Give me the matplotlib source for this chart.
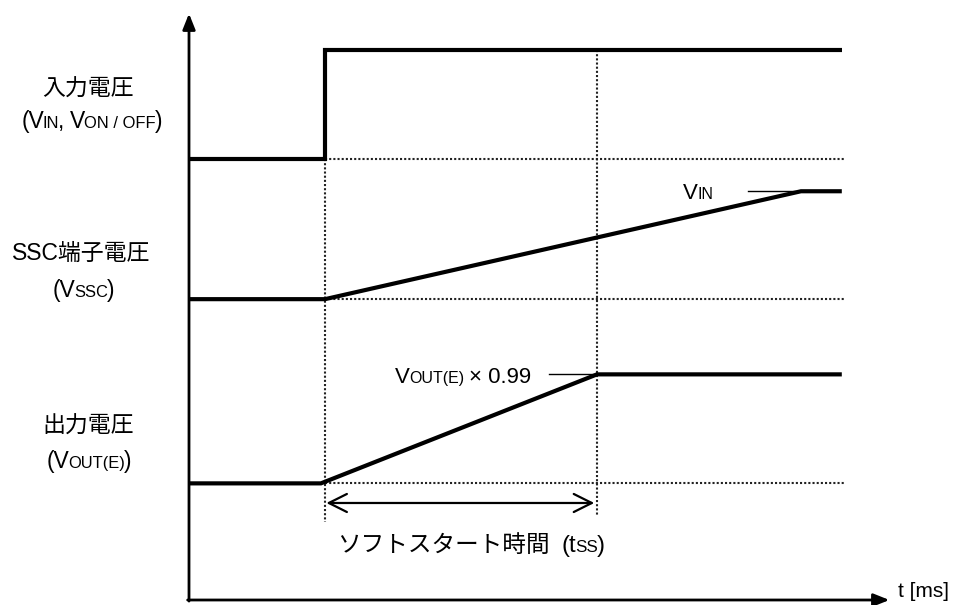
import numpy as np
import matplotlib
matplotlib.use('Agg')
import matplotlib.pyplot as plt

FAM = ['Liberation Sans', 'Noto Sans CJK JP']
plt.rcParams['font.family'] = FAM

# time in ms (arbitrary scale), voltage levels in arbitrary units
t_on = 10.0          # VIN / VON/OFF step
t_ss = 30.0          # end of soft start (VOUT reaches 99%)
t_ssc = 45.0         # SSC pin reaches VIN
t_end = 48.0
t_axis = 51.5

vin_t = [0, t_on, t_on, t_end]
vin_v = [40.46, 40.46, 50.46, 50.46]

ssc_t = [0, t_on, t_ssc, t_end]
ssc_v = [27.6, 27.6, 37.5, 37.5]

out_t = [0, t_on - 0.3, t_ss, t_end]
out_v = [10.7, 10.7, 20.7, 20.7]

labels = ['入力電圧', 'SSC端子電圧', '出力電圧']
sym_parts = [
    [('(V', 0), ('IN', 1), (',', 0), (None, 6), ('V', 0), ('ON / OFF', 1), (')', 0)],
    [('(V', 0), ('SSC', 1), (')', 0)],
    [('(V', 0), ('OUT(E)', 1), (')', 0)],
]

fig = plt.figure(figsize=(9.6, 6.05), dpi=100)
ax = fig.add_axes([0, 0, 1, 1])
ax.set_xlim(-189 / 13.6, (960 - 189) / 13.6)
ax.set_ylim(-5 / 10.9, 600 / 10.9)
ax.axis('off')
renderer = fig.canvas.get_renderer()


def rich(x, y, parts, size, ha='center'):
    # small pieces sit on the same baseline, like the original small caps subscripts
    texts, widths = [], []
    for s, small in parts:
        if s is None:
            texts.append(None)
            widths.append(small)
            continue
        t = ax.text(0, 0, s, fontsize=size * 0.72 if small else size,
                    va='baseline', ha='left')
        texts.append(t)
        widths.append(t.get_window_extent(renderer).width - 1.0)
    total = sum(widths)
    x0, y0 = ax.transData.transform((x, y))
    if ha == 'center':
        x0 -= total / 2
    elif ha == 'right':
        x0 -= total
    inv = ax.transData.inverted()
    for t, w in zip(texts, widths):
        if t is not None:
            t.set_position(inv.transform((x0, y0)))
        x0 += w


# axes with arrows
ax.annotate('', xy=(0, 53.8), xytext=(0, -0.1),
            arrowprops=dict(arrowstyle='-|>,head_length=0.95,head_width=0.38',
                            lw=2, color='black', mutation_scale=10,
                            shrinkA=0, shrinkB=0))
ax.annotate('', xy=(t_axis, 0), xytext=(-0.1, 0),
            arrowprops=dict(arrowstyle='-|>,head_length=0.95,head_width=0.38',
                            lw=2, color='black', mutation_scale=10,
                            shrinkA=0, shrinkB=0))
ax.text(t_axis + 0.6, 0.8, 't [ms]', fontsize=15, va='center', ha='left')

# dotted guides
dot = dict(color='#222222', lw=1.5, linestyle=(0, (1, 1)))
for lv in [vin_v[0], ssc_v[0], out_v[0]]:
    ax.plot([t_on, t_end + 0.25], [lv, lv], **dot)
ax.plot([t_on, t_on], [vin_v[0], 7.2], **dot)
ax.plot([t_ss, t_ss], [vin_v[-1], 7.7], **dot)

# waveforms
for tt, vv in [(vin_t, vin_v), (ssc_t, ssc_v), (out_t, out_v)]:
    ax.plot(tt, vv, color='black', lw=3, solid_capstyle='butt',
            solid_joinstyle='miter')

# leader lines
ax.plot([41.1, t_ssc], [ssc_v[-1], ssc_v[-1]], color='black', lw=1)
ax.plot([26.5, t_ss], [out_v[-1], out_v[-1]], color='black', lw=1)
rich(37.4, 36.8, [('V', 0), ('IN', 1)], 16)
rich(25.1, 19.9, [('V', 0), ('OUT(E)', 1), (None, 6), ('× 0.99', 0)], 16, ha='right')

# soft start time arrow
ax.annotate('', xy=(t_ss - 0.2, 8.9), xytext=(t_on + 0.1, 8.9),
            arrowprops=dict(arrowstyle='<->,head_length=1.3,head_width=0.65',
                            lw=1.6, color='black', mutation_scale=10,
                            shrinkA=0, shrinkB=0))
rich(20.7, 4.4, [('ソフトスタート時間', 0), (None, 12), ('(t', 0), ('SS', 1), (')', 0)], 17)

# left labels
lab_y = [46.3, 31.2, 15.3]
sym_y = [43.3, 27.8, 12.1]
lab_x = [-7.4, -7.9, -7.4]
sym_x = [-7.2, -7.8, -7.4]
for name, parts, ly, sy, lx, sx in zip(labels, sym_parts, lab_y, sym_y, lab_x, sym_x):
    ax.text(lx, ly, name, fontsize=16.5, ha='center', va='baseline')
    rich(sx, sy, parts, 16.5)

fig.savefig('out.png', dpi=100)
